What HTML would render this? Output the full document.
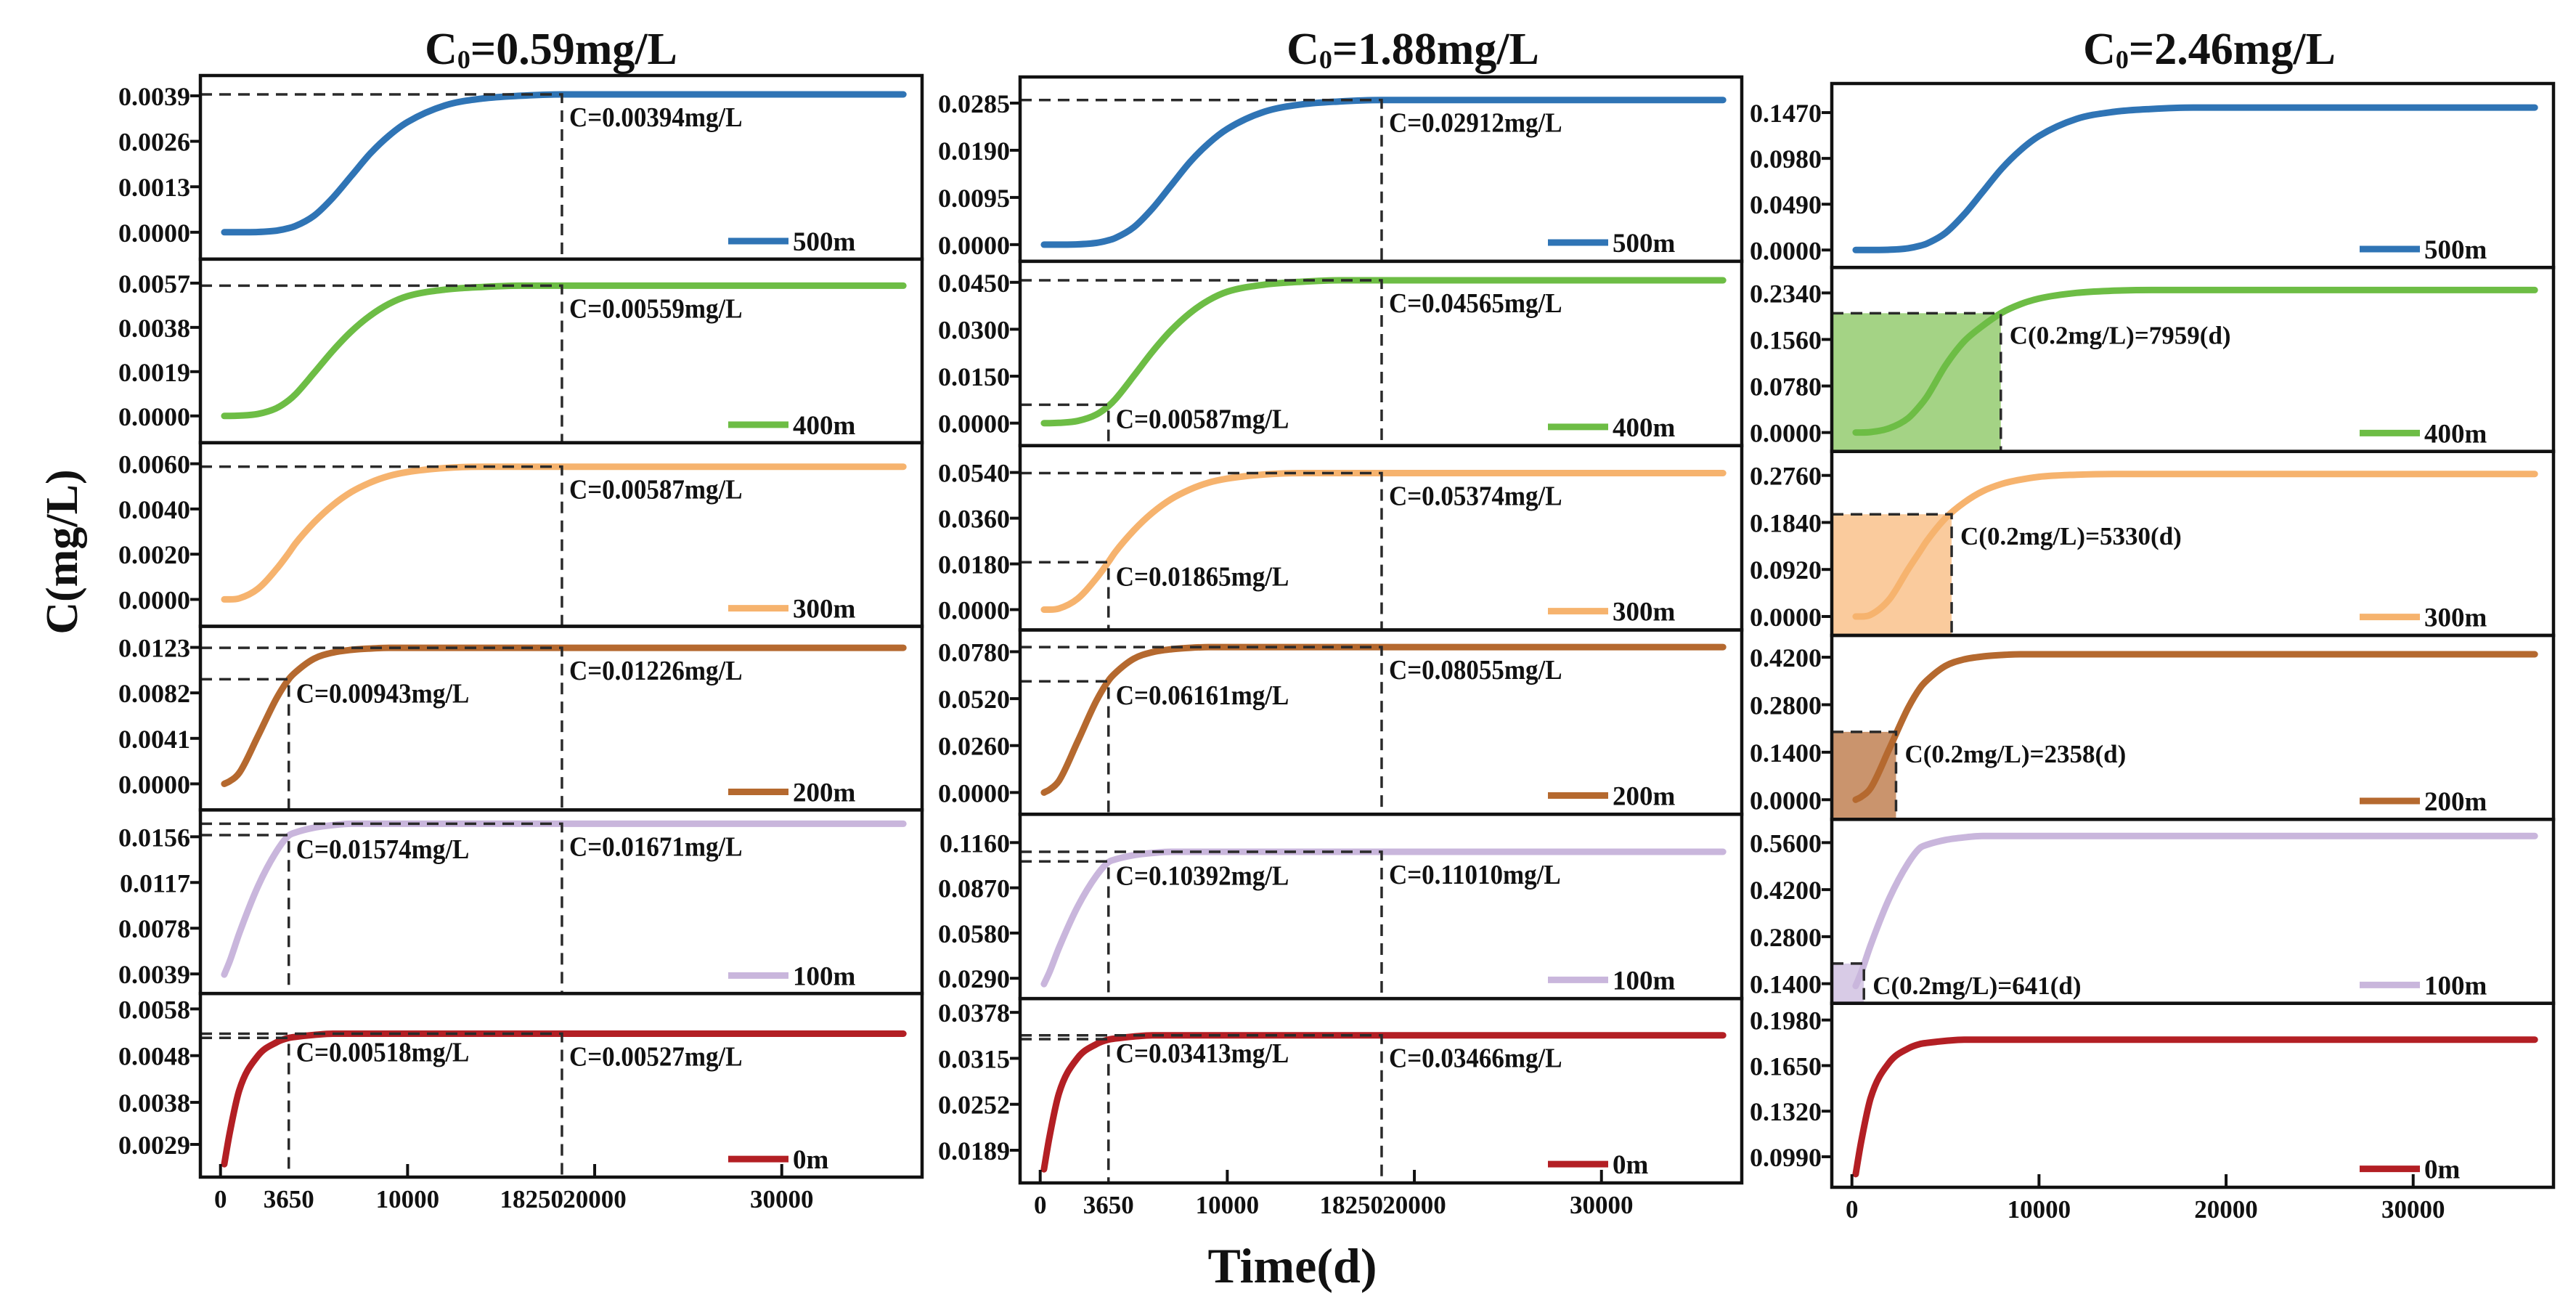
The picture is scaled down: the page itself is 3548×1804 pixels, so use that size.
<!DOCTYPE html>
<html><head><meta charset="utf-8"><title>Concentration vs Time</title>
<style>
html,body{margin:0;padding:0;background:#fff;}
svg{display:block;}
text{font-family:"Liberation Serif",serif;font-weight:bold;fill:#111;}
</style></head>
<body>
<svg id="fig" width="3548" height="1804" viewBox="0 0 3548 1804" xmlns="http://www.w3.org/2000/svg">
<rect x="0" y="0" width="3548" height="1804" fill="#fff"/>
<text x="759" y="88" text-anchor="middle" font-size="62">C<tspan font-size="36" dy="6">0</tspan><tspan dy="-6">=0.59mg/L</tspan></text>
<text x="1946" y="88" text-anchor="middle" font-size="62">C<tspan font-size="36" dy="6">0</tspan><tspan dy="-6">=1.88mg/L</tspan></text>
<text x="3043" y="88" text-anchor="middle" font-size="62">C<tspan font-size="36" dy="6">0</tspan><tspan dy="-6">=2.46mg/L</tspan></text>
<text x="0" y="0" transform="translate(106,760) rotate(-90)" text-anchor="middle" font-size="62">C(mg/L)</text>
<text x="1780" y="1766" text-anchor="middle" font-size="68">Time(d)</text>
<g id="plots"></g>
</svg>
<script>
// ---- data ----
const T = [200,500,1000,2000,3000,3650,4000,5000,6000,7000,8000,9000,10000,12000,14000,16000,18250,25000,36500];
const distances = ["500m","400m","300m","200m","100m","0m"];
const s500 = [0,0,0,0.002,0.012,0.03,0.045,0.12,0.25,0.41,0.57,0.70,0.80,0.92,0.97,0.99,1,1,1];
const s400 = [0,0,0.002,0.015,0.06,0.12,0.165,0.33,0.50,0.65,0.77,0.86,0.92,0.97,0.99,1,1,1,1];
const s300 = [0,0,0.008,0.08,0.23,0.35,0.42,0.58,0.71,0.81,0.88,0.93,0.96,0.99,1,1,1,1,1];
const s200 = [0,0.02,0.08,0.35,0.63,0.77,0.82,0.92,0.965,0.985,0.995,1,1,1,1,1,1,1,1];
const s100 = [0.23,0.3,0.44,0.68,0.86,0.94,0.955,0.98,0.993,1,1,1,1,1,1,1,1,1,1];
const s0   = [0.47,0.6,0.77,0.91,0.965,0.983,0.987,0.995,1,1,1,1,1,1,1,1,1,1,1];
const c3s400 = [0,0,0.003,0.03,0.1,0.19,0.25,0.47,0.64,0.75,0.84,0.9,0.94,0.98,0.995,1,1,1,1];
const c3s300 = [0,0,0.012,0.12,0.33,0.46,0.53,0.69,0.80,0.88,0.93,0.96,0.98,0.995,1,1,1,1,1];
const final1 = [0.00394,0.00559,0.00587,0.01226,0.01671,0.00527];
const final2 = [0.02912,0.04565,0.05374,0.08055,0.11010,0.03466];
const final3 = [0.1524,0.2389,0.2788,0.4286,0.5795,0.1838];
const yLo1 = [-0.000768,-0.00115,-0.00119,-0.00235,0.00223,0.0022];
const yHi1 = [0.00448,0.00673,0.00693,0.0142,0.01789,0.00613];
const yLo2 = [-0.00336,-0.00719,-0.008,-0.01206,0.01597,0.01442];
const yHi2 = [0.03376,0.05172,0.06457,0.09006,0.13415,0.03969];
const yLo3 = [-0.01867,-0.03169,-0.03697,-0.05789,0.08158,0.07689];
const yHi3 = [0.17811,0.27666,0.32292,0.48432,0.62924,0.2101];
const ticks1 = [["0.0000","0.0013","0.0026","0.0039"],["0.0000","0.0019","0.0038","0.0057"],["0.0000","0.0020","0.0040","0.0060"],["0.0000","0.0041","0.0082","0.0123"],["0.0039","0.0078","0.0117","0.0156"],["0.0029","0.0038","0.0048","0.0058"]];
const ticks2 = [["0.0000","0.0095","0.0190","0.0285"],["0.0000","0.0150","0.0300","0.0450"],["0.0000","0.0180","0.0360","0.0540"],["0.0000","0.0260","0.0520","0.0780"],["0.0290","0.0580","0.0870","0.1160"],["0.0189","0.0252","0.0315","0.0378"]];
const ticks3 = [["0.0000","0.0490","0.0980","0.1470"],["0.0000","0.0780","0.1560","0.2340"],["0.0000","0.0920","0.1840","0.2760"],["0.0000","0.1400","0.2800","0.4200"],["0.1400","0.2800","0.4200","0.5600"],["0.0990","0.1320","0.1650","0.1980"]];
const ann3650_1 = [null,null,null,0.00943,0.01574,0.00518];
const ann18250_1 = [0.00394,0.00559,0.00587,0.01226,0.01671,0.00527];
const ann3650_2 = [null,0.00587,0.01865,0.06161,0.10392,0.03413];
const ann18250_2 = [0.02912,0.04565,0.05374,0.08055,0.11010,0.03466];
const threshTimes3 = [null,7959,5330,2358,641,null];
const threshValue = 0.2;
const xTicksMajor = [0,10000,20000,30000];
const xLabels12 = ["0","3650","10000","18250","20000","30000"];
const xLabels3 = ["0","10000","20000","30000"];

// ---- layout ----
const colors = ["#2f74b5","#6dbd45","#f6b36e","#b5692f","#c9b6dc","#b31f24"];
const fills = ["#2f74b5","#86c45c","#f8ba7c","#b8703c","#cbb9de","#b31f24"];
const cols = [
  {left:276,right:1270,top:104,bottom:1621},
  {left:1405,right:2399,top:106,bottom:1629},
  {left:2523,right:3517,top:115,bottom:1635}
];
const xDom = [-1075,37500];
const NS = "http://www.w3.org/2000/svg";
const root = document.getElementById('plots');
function mk(tag, attrs, parent){
  const e = document.createElementNS(NS, tag);
  for (const k in attrs) e.setAttribute(k, attrs[k]);
  (parent||root).appendChild(e);
  return e;
}
function monoPath(xs, ys){
  const n = xs.length, d = [], m = [];
  for (let i=0;i<n-1;i++) d.push((ys[i+1]-ys[i])/(xs[i+1]-xs[i]));
  m[0]=d[0]; m[n-1]=d[n-2];
  for (let i=1;i<n-1;i++){ m[i] = (d[i-1]*d[i] <= 0) ? 0 : (d[i-1]+d[i])/2; }
  for (let i=0;i<n-1;i++){
    if (d[i]===0){ m[i]=0; m[i+1]=0; continue; }
    const a=m[i]/d[i], b=m[i+1]/d[i], s=a*a+b*b;
    if (s>9){ const t=3/Math.sqrt(s); m[i]=t*a*d[i]; m[i+1]=t*b*d[i]; }
  }
  let p = "M"+xs[0].toFixed(1)+","+ys[0].toFixed(1);
  for (let i=0;i<n-1;i++){
    const h=(xs[i+1]-xs[i])/3;
    p += " C"+(xs[i]+h).toFixed(1)+","+(ys[i]+m[i]*h).toFixed(1)+" "+(xs[i+1]-h).toFixed(1)+","+(ys[i+1]-m[i+1]*h).toFixed(1)+" "+xs[i+1].toFixed(1)+","+ys[i+1].toFixed(1);
  }
  return p;
}
const shapesByCol = [
  [s500,s400,s300,s200,s100,s0],
  [s500,s400,s300,s200,s100,s0],
  [s500,c3s400,c3s300,s200,s100,s0]
];
const finals = [final1,final2,final3];
const yLos = [yLo1,yLo2,yLo3], yHis = [yHi1,yHi2,yHi3];
const tickSets = [ticks1,ticks2,ticks3];
const ann3650 = [ann3650_1, ann3650_2, null];
const ann18250 = [ann18250_1, ann18250_2, null];

cols.forEach((c, ci) => {
  const H = (c.bottom - c.top)/6;
  const xs = t => c.left + (t - xDom[0])/(xDom[1]-xDom[0])*(c.right-c.left);
  const gc = mk('g', {});
  
  
  for (let pi=0; pi<6; pi++){
    const top = c.top + pi*H, bot = top + H;
    const lo = yLos[ci][pi], hi = yHis[ci][pi];
    const ys = v => bot - (v-lo)/(hi-lo)*H;
    const g = mk('g', {}, gc);
    
    
    const cid = 'clip'+ci+'_'+pi;
    const cp = mk('clipPath', {id:cid}, g);
    mk('rect', {x:c.left, y:top, width:c.right-c.left, height:H}, cp);
    if (ci===2 && threshTimes3[pi]!==null){
      const tx = xs(threshTimes3[pi]), ty = ys(threshValue);
      const r = mk('rect', {x:c.left, y:ty, width:tx-c.left, height:bot-ty, fill:fills[pi], 'fill-opacity':0.75, 'clip-path':'url(#'+cid+')'}, g);
      
      
    }
    const vals = shapesByCol[ci][pi].map(s => s*finals[ci][pi]);
    const path = mk('path', {d:monoPath(T.map(xs), vals.map(ys)), fill:'none', stroke:colors[pi], 'stroke-width':9, 'stroke-linecap':'round', 'clip-path':'url(#'+cid+')'}, g);
    
    
    const dash = {fill:'none', stroke:'#2a2a2a', 'stroke-width':3.5, 'stroke-dasharray':'16 10'};
    if (ci<2){
      [[3650, ann3650[ci][pi], 32], [18250, ann18250[ci][pi], 44]].forEach(([t,v,off]) => {
        if (v===null) return;
        const x = xs(t), y = ys(v);
        const pl = mk('polyline', Object.assign({points:c.left+','+y+' '+x+','+y+' '+x+','+bot}, dash), g);
        
        
        const tl = mk('text', {x:x+10, y:y+off, 'font-size':35, transform:'translate('+(x+10)+','+(y+off)+') scale(1,1.1) translate('+(-(x+10))+','+(-(y+off))+')'}, g);
        tl.textContent = 'C='+v.toFixed(5)+'mg/L';
        
        
      });
    } else if (threshTimes3[pi]!==null){
      const x = xs(threshTimes3[pi]), y = ys(threshValue);
      const pl = mk('polyline', Object.assign({points:c.left+','+y+' '+x+','+y+' '+x+','+bot}, dash), g);
      
      
      const tl = mk('text', {x:x+12, y:y+42, 'font-size':35}, g);
      tl.textContent = 'C(0.2mg/L)='+threshTimes3[pi]+'(d)';
      
      
    }
    tickSets[ci][pi].forEach(lbl => {
      const y = ys(parseFloat(lbl));
      const tk = mk('line', {x1:c.left-14, y1:y, x2:c.left, y2:y, stroke:'#111', 'stroke-width':4}, g);
      
      
      const tt = mk('text', {x:c.left-14, y:y+13, 'text-anchor':'end', 'font-size':36}, g);
      tt.textContent = lbl;
      
      
    });
    const ly = top + 228;
    const ll = mk('line', {x1:c.right-267, y1:ly, x2:c.right-184, y2:ly, stroke:colors[pi], 'stroke-width':9}, g);
    
    
    const lt = mk('text', {x:c.right-178, y:ly+13, 'font-size':37}, g);
    lt.textContent = distances[pi];
    
    
    const fr = mk('rect', {x:c.left, y:top, width:c.right-c.left, height:H, fill:'none', stroke:'#111', 'stroke-width':4.5}, g);
    
    
  }
  xTicksMajor.forEach(t => {
    const x = xs(t);
    const tk = mk('line', {x1:x, y1:c.bottom, x2:x, y2:c.bottom-18, stroke:'#111', 'stroke-width':4}, gc);
    
    
  });
  (ci<2 ? xLabels12 : xLabels3).forEach(lbl => {
    const v = parseFloat(lbl);
    const x = xs(v);
    const anchor = (lbl === "18250") ? 'end' : 'middle';
    const tl = mk('text', {x:(lbl === "18250") ? x+2 : x, y:c.bottom+42, 'text-anchor':anchor, 'font-size':35}, gc);
    tl.textContent = lbl;
    
    
  });
});
</script>
</body></html>
